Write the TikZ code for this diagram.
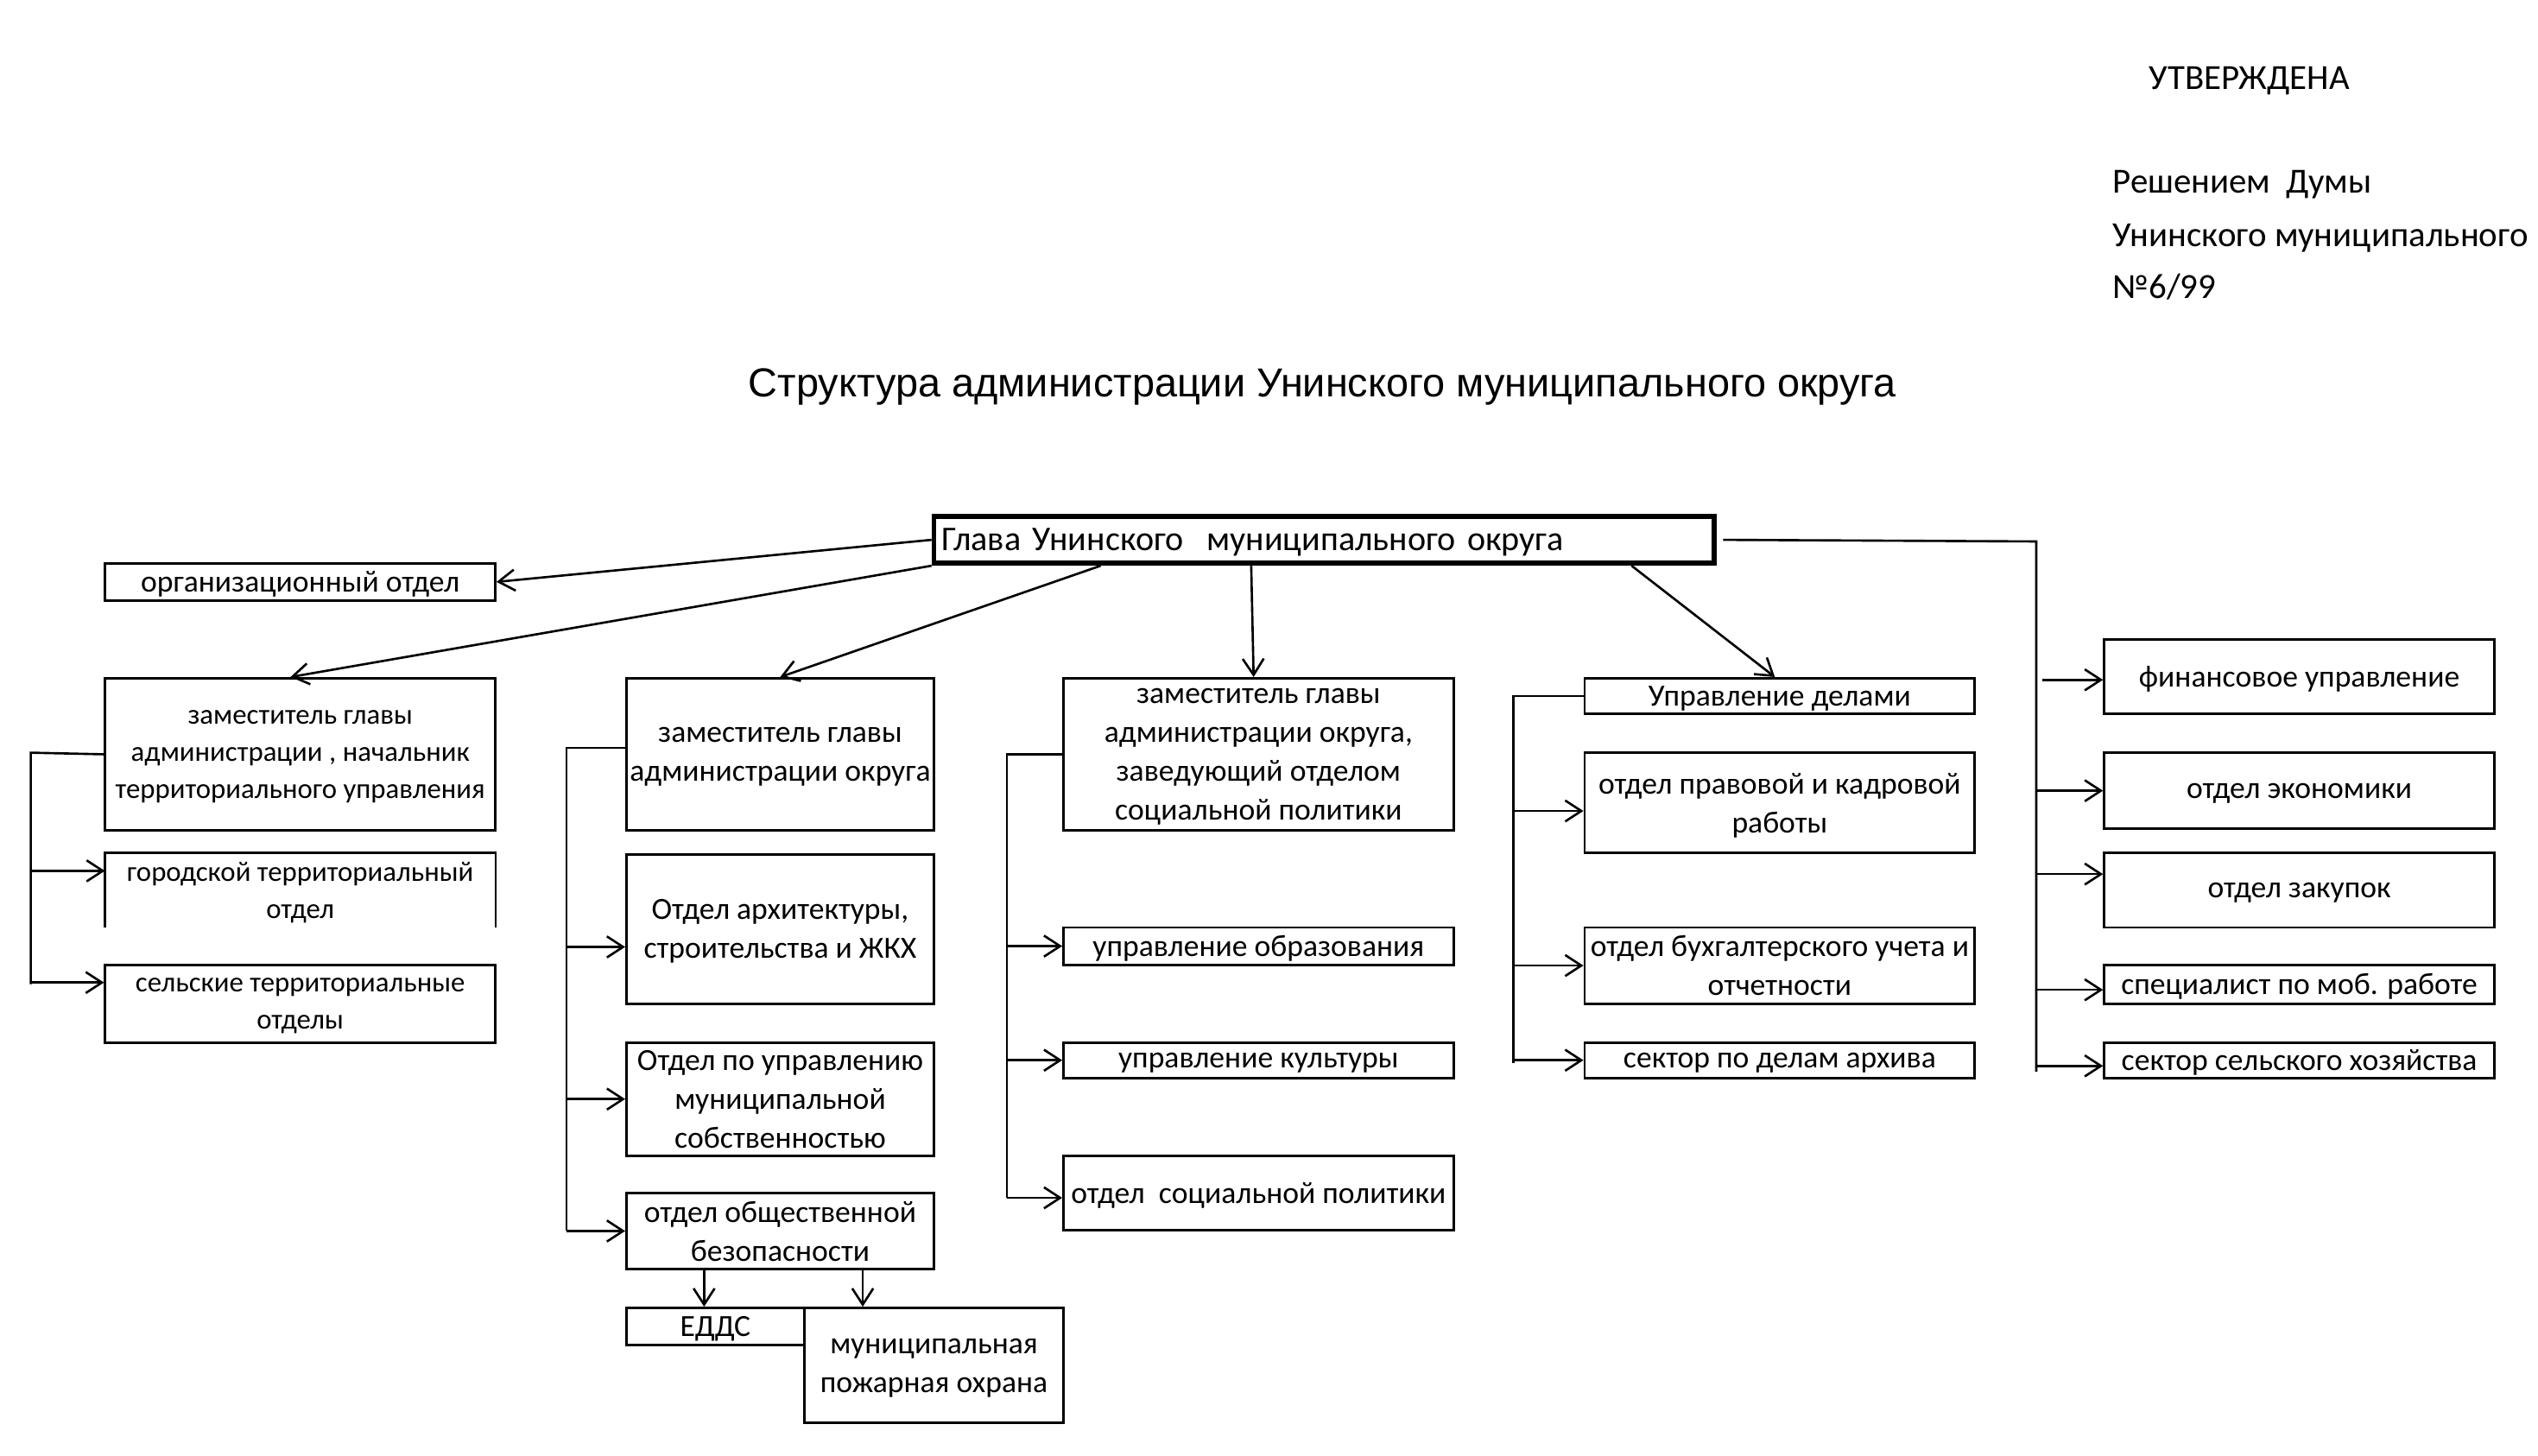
\documentclass[tikz,border=0pt]{standalone}
\usepackage{fontspec}
\setmainfont{Carlito}
\newfontfamily\titlefont{Liberation Sans}
\usetikzlibrary{arrows.meta}
\begin{document}
\begin{tikzpicture}[x=1pt,y=-1pt,
  box/.style={draw, line width=1.5pt, inner sep=0pt, align=center, text depth=0pt, font=\fontsize{19}{24}\selectfont},
  small/.style={font=\fontsize{17.5}{23}\selectfont},
  conn/.style={line width=1.4pt},
  arr/.style={line width=1.4pt, -{Straight Barb[length=10pt,width=13pt]}},
  toptext/.style={anchor=base west, inner sep=0pt, font=\fontsize{21.8}{24}\selectfont},
]
\useasboundingbox (0,0) rectangle (1568,899);

% header text
\node[toptext] (utv) at (1327.5,55.3) {УТВЕРЖДЕНА};
\node[toptext] (resh) at (1305,119) {Решением\ \ Думы};
\node[toptext] (unin) at (1305,152.4) {Унинского муниципального};
\node[toptext] (num) at (1305,184.5) {№6/99};
\node[anchor=base, inner sep=0pt, font=\titlefont\fontsize{25}{28}\selectfont] (title) at (817,245) {Структура администрации Унинского муниципального округа};

% head
\node[draw, line width=3pt, minimum width=482pt, minimum height=29pt, text width=472pt, inner xsep=5pt, inner ysep=0pt, align=left, text depth=0pt, font=\fontsize{21.4}{24}\selectfont] (glava) at (818,333.5) {Глава Унинского\ \ муниципального округа};

% column A
\node[box, minimum width=241pt, minimum height=23pt] (org) at (185.5,359.5) {организационный отдел};
\node[box, small, minimum width=241pt, minimum height=94pt] (zamA) at (185.5,466) {заместитель главы\\администрации , начальник\\территориального управления};
\node[inner sep=0pt, align=center, text depth=0pt, small, minimum width=241pt, minimum height=46pt] (gor) at (185.5,550) {городской территориальный\\отдел};
\draw[line width=1.5pt] (gor.south west) -- (gor.north west) -- (gor.north east) -- (gor.south east);
\node[box, small, minimum width=241pt, minimum height=48pt] (sel) at (185.5,620) {сельские территориальные\\отделы};

% column B
\node[box, minimum width=190pt, minimum height=94pt] (zamB) at (482,466) {заместитель главы\\администрации округа};
\node[box, minimum width=190pt, minimum height=92pt] (arch) at (482,574) {Отдел архитектуры,\\строительства и ЖКХ};
\node[box, minimum width=190pt, minimum height=70pt] (mun) at (482,679) {Отдел по управлению\\муниципальной\\собственностью};
\node[box, minimum width=190pt, minimum height=47pt] (obsh) at (482,760.5) {отдел общественной\\безопасности};
\node[box, minimum width=110pt, minimum height=23pt] (edds) at (442,819.5) {ЕДДС};
\node[box, minimum width=160pt, minimum height=71pt] (pozh) at (577,843.5) {муниципальная\\пожарная охрана};

% column C
\node[box, minimum width=241pt, minimum height=94pt] (zamC) at (777.5,466) {заместитель главы\\администрации округа,\\заведующий отделом\\социальной политики};
\node[box, minimum width=241pt, minimum height=23pt] (obr) at (777.5,584.5) {управление образования};
\node[box, minimum width=241pt, minimum height=22pt] (kult) at (777.5,655) {управление культуры};
\node[box, minimum width=241pt, minimum height=46pt] (soc) at (777.5,737) {отдел\ \ социальной политики};

% column D
\node[box, minimum width=241pt, minimum height=22pt] (upr) at (1099.5,430) {Управление делами};
\node[box, minimum width=241pt, minimum height=62pt] (prav) at (1099.5,496) {отдел правовой и кадровой\\работы};
\node[box, minimum width=241pt, minimum height=47pt] (buh) at (1099.5,596.5) {отдел бухгалтерского учета и\\отчетности};
\node[box, minimum width=241pt, minimum height=22pt] (arh) at (1099.5,655) {сектор по делам архива};

% column E
\node[box, minimum width=241pt, minimum height=46pt] (fin) at (1420.5,418) {финансовое управление};
\node[box, minimum width=241pt, minimum height=47pt] (eko) at (1420.5,488.5) {отдел экономики};
\node[box, minimum width=241pt, minimum height=46pt] (zak) at (1420.5,550) {отдел закупок};
\node[box, minimum width=241pt, minimum height=24pt] (spec) at (1420.5,608) {специалист по моб. работе};
\node[box, minimum width=241pt, minimum height=22pt] (sel2) at (1420.5,655) {сектор сельского хозяйства};

% connectors from head
\draw[arr] (glava.west) -- (org.east);
\draw[arr] (glava.south west) -- ([xshift=-6pt]zamA.north);
\draw[arr] ([xshift=-138pt]glava.south) -- (zamB.north);
\draw[arr] ([xshift=-45pt]glava.south) -- ([xshift=-3pt]zamC.north);
\draw[arr] ([xshift=190pt]glava.south) -- ([xshift=-3pt]upr.north);

% bus A
\coordinate (busA) at (19,465);
\draw[conn] (zamA.west) -- (busA) -- ++(0,143);
\coordinate (gA) at ([yshift=12pt]gor.west);
\coordinate (sA) at ([yshift=13pt]sel.west);
\draw[arr] (busA |- gA) -- (gA);
\draw[arr] (busA |- sA) -- (sA);

% bus B
\coordinate (hB) at ([yshift=4pt]zamB.west);
\coordinate (busB) at (350,0);
\coordinate (aB) at ([yshift=-11pt]arch.west);
\draw[conn] (hB) -- (busB |- hB) -- (busB |- obsh.west);
\draw[arr] (busB |- aB) -- (aB);
\draw[arr] (busB |- mun.west) -- (mun.west);
\draw[arr] (busB |- obsh.west) -- (obsh.west);
\coordinate (d1) at ([xshift=-47pt]obsh.south);
\coordinate (d2) at ([xshift=51pt]obsh.south);
\draw[arr] (d1) -- (d1 |- edds.north);
\draw[arr] (d2) -- (d2 |- pozh.north);

% bus C
\coordinate (busC) at (622,0);
\coordinate (sC) at ([yshift=-3pt]soc.west);
\draw[conn] (zamC.west) -- (busC |- zamC.west) -- (busC |- sC);
\draw[arr] (busC |- obr.west) -- (obr.west);
\draw[arr] (busC |- kult.west) -- (kult.west);
\draw[arr] (busC |- sC) -- (sC);

% bus D
\coordinate (busD) at (935,0);
\coordinate (pD) at ([yshift=-5pt]prav.west);
\draw[conn] (upr.west) -- (busD |- upr.west) -- ([yshift=-2pt]busD |- arh.west);
\draw[arr] (busD |- pD) -- (pD);
\draw[arr] (busD |- buh.west) -- (buh.west);
\draw[arr] (busD |- arh.west) -- (arh.west);

% bus E
\coordinate (busE) at (1258,334.5);
\coordinate (fE) at ([yshift=-2pt]fin.west);
\coordinate (zE) at ([yshift=10pt]zak.west);
\coordinate (spE) at ([yshift=-3.5pt]spec.west);
\coordinate (slE) at ([yshift=-3.5pt]sel2.west);
\draw[conn] ([xshift=4pt]glava.east) -- (busE) -- ([yshift=-3.5pt]busE |- slE);
\draw[arr] ([xshift=4pt]busE |- fE) -- (fE);
\draw[arr] (busE |- eko.west) -- (eko.west);
\draw[arr] (busE |- zE) -- (zE);
\draw[arr] (busE |- spE) -- (spE);
\draw[arr] (busE |- slE) -- (slE);
\end{tikzpicture}
\end{document}
